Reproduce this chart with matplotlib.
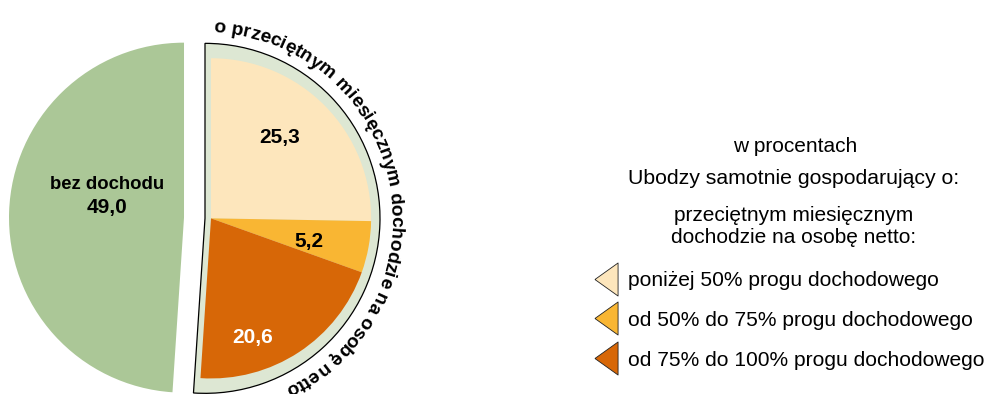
import numpy as np
import matplotlib.pyplot as plt
from matplotlib.lines import Line2D
from matplotlib.font_manager import FontProperties, findfont
from matplotlib.ft2font import FT2Font

plt.rcParams['font.family'] = ['Liberation Sans', 'DejaVu Sans']

# dane w procentach
share_none = 49.0
income_values = [25.3, 5.2, 20.6]
income_labels = ['poniżej 50% progu dochodowego',
                 'od 50% do 75% progu dochodowego',
                 'od 75% do 100% progu dochodowego']
value_text = ['25,3', '5,2', '20,6']
none_name = 'bez dochodu'
none_text = '49,0'
arc_title = 'o przeciętnym miesięcznym dochodzie na osobę netto'
head_1 = 'w procentach'
head_2 = 'Ubodzy samotnie gospodarujący o:'
head_3 = 'przeciętnym miesięcznym\ndochodzie na osobę netto:'

green = '#abc797'
ring = '#dde7d3'
colors = ['#fde6bc', '#f9b633', '#d76707']

W, H = 991, 394
fig = plt.figure(figsize=(W / 100, H / 100), dpi=100)
ax = fig.add_axes([0, 0, 420 / W, 1])

R = 175
c0 = (194.5, 176)

# zewnetrzne kolo: tlo dla grup dochodowych + "bez dochodu"
# (explode w matplotlib jest w jednostkach danych, tu piksele)
outer, _ = ax.pie([sum(income_values), share_none], explode=[10.5, 10.5],
                  colors=[ring, green], startangle=90, counterclock=False,
                  radius=R, center=c0)
outer[0].set_edgecolor('black')
outer[0].set_linewidth(0.9)
outer[1].set_linewidth(0)
rx, ry = outer[0].center

# wewnetrzne kawalki
inner, _ = ax.pie(income_values + [share_none], colors=colors + ['none'],
                  startangle=90, counterclock=False, radius=0.915 * R,
                  center=(rx + 6, ry), wedgeprops=dict(linewidth=0))

# etykiety (pozycje w pikselach obrazu)
label_pos = [(280, 137), (309, 241), (253, 338)]
label_col = ['black', 'black', 'white']
for (px, py), t, c in zip(label_pos, value_text, label_col):
    ax.text(px, H - py, t, ha='center', va='center', fontsize=15,
            fontweight='bold', color=c)
ax.text(107, H - 184, none_name, ha='center', va='center', fontsize=13.3,
        fontweight='bold')
ax.text(107, H - 207, none_text, ha='center', va='center', fontsize=15,
        fontweight='bold')

# napis po luku
arc_fs = 13.8
font = FT2Font(findfont(FontProperties(family='Liberation Sans', weight='bold')))
font.set_size(arc_fs, 100)
adv = [font.load_char(ord(ch)).linearHoriAdvance / 65536 for ch in arc_title]
r_base = 186
theta0 = np.deg2rad(87.5)
pos = 0.0
for ch, a in zip(arc_title, adv):
    th = theta0 - (pos + a / 2) / r_base
    pos += a
    ax.text(rx + r_base * np.cos(th), ry + r_base * np.sin(th), ch,
            rotation=np.rad2deg(th) - 90, rotation_mode='anchor',
            ha='center', va='baseline', fontsize=arc_fs, fontweight='bold')

ax.set_xlim(0, 420)
ax.set_ylim(0, H)
ax.set_axis_off()

# opis i legenda
fig.text(795 / W, 1 - 146 / H, head_1, ha='center', va='center', fontsize=15)
fig.text(794 / W, 1 - 179 / H, head_2, ha='center', va='center', fontsize=15.3)
fig.text(794 / W, 1 - 226.5 / H, head_3, ha='center', va='center',
         fontsize=15, linespacing=1.2)

tri = [(-0.7, 0), (0.7, 1), (0.7, -1), (-0.7, 0)]
handles = [Line2D([], [], marker=tri, markersize=23.8, markerfacecolor=c,
                  markeredgecolor='#222222', markeredgewidth=0.6,
                  linestyle='none') for c in colors]
fig.legend(handles, income_labels, loc='upper left',
           bbox_to_anchor=(593 / W, 1 - 271 / H), frameon=False, fontsize=15.1,
           handlelength=1.2, handletextpad=0.45, labelspacing=0.99,
           borderpad=0, borderaxespad=0)

fig.savefig('out.png', dpi=100)
